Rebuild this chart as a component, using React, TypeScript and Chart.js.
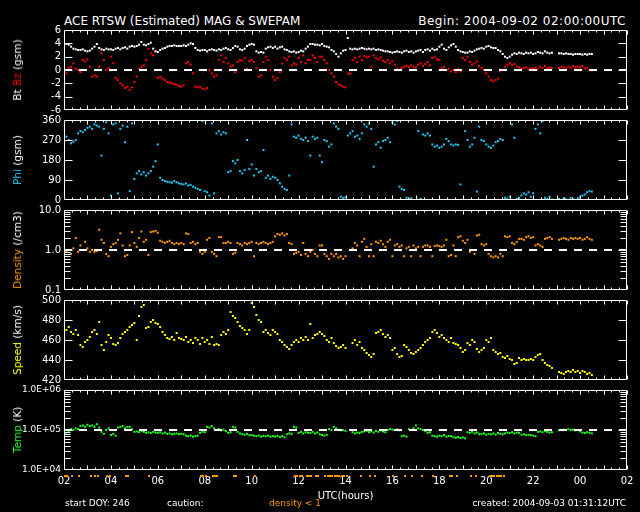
import React, { useEffect, useRef } from 'react';
import { Chart, registerables } from 'chart.js';

Chart.register(...registerables);
Chart.defaults.font.family = 'DejaVu Sans';

// ---- data (hours after 2004-09-02 02:00 UTC, one value every 0.1 h) ----
const STEP_H = 0.1;
const X_TICK_HOURS = [0, 2, 4, 6, 8, 10, 12, 14, 16, 18, 20, 22, 24];
const START_HOUR = 2;

const BT = [
  4.0,3.9,3.8,3.5,3.2,3.1,3.0,3.0,3.1,2.9,
  2.8,2.9,3.2,3.5,3.9,3.3,3.1,3.0,3.2,3.1,
  3.1,3.0,3.2,3.3,3.1,3.3,3.4,3.2,3.5,3.6,
  3.5,3.6,3.8,4.2,3.8,3.7,3.9,4.1,3.2,2.8,
  2.7,3.0,3.2,3.3,3.5,3.6,3.6,3.7,3.6,3.6,
  3.6,3.7,3.6,3.8,4.0,3.9,3.3,3.0,2.9,3.0,
  3.0,2.8,3.0,3.1,3.0,2.9,3.1,3.0,3.2,3.3,
  3.1,3.0,3.3,3.6,3.5,3.1,3.0,3.2,3.6,3.8,
  3.9,3.8,2.8,2.6,2.7,2.6,3.2,3.4,3.5,3.3,
  3.5,3.2,3.4,3.5,3.1,3.0,2.8,2.7,2.8,2.6,
  2.7,2.9,2.8,3.2,3.5,3.9,3.9,3.8,3.8,3.7,
  3.9,3.6,3.5,3.4,3.0,2.8,2.4,2.0,2.5,2.9,
  3.0,4.8,3.2,3.1,3.2,3.1,3.2,3.3,3.2,3.1,
  3.2,3.1,3.2,3.0,3.1,3.0,2.9,2.8,2.8,2.7,
  2.6,2.7,2.8,2.7,2.6,2.8,2.9,2.7,2.8,2.6,
  2.8,2.9,3.0,2.7,3.0,3.1,2.9,3.2,3.0,3.1,
  3.5,3.8,3.2,3.0,3.4,3.7,3.9,3.5,3.0,2.8,
  2.7,2.6,2.6,2.8,2.7,2.9,3.1,3.2,3.3,3.2,
  3.5,3.6,3.4,3.3,3.3,3.0,2.8,2.4,2.0,1.8,
  2.0,2.3,2.5,2.4,2.6,2.5,2.4,2.6,2.5,2.6,
  2.4,2.5,2.7,2.6,2.5,2.8,2.6,2.5,2.6,null,
  null,2.5,2.5,2.4,2.5,2.4,2.4,2.3,2.4,2.4,
  2.4,2.3,2.4,2.3,2.4,2.4,
];

const BZ = [
  -1.0,-0.5,0.3,0.5,1.0,0.2,0.0,-0.3,1.5,1.3,
  1.6,0.5,-1.0,-0.8,-1.0,0.5,2.5,1.5,0.0,0.3,
  2.0,1.0,-1.2,-1.5,-2.0,-2.3,-2.7,-2.5,-3.0,-2.6,
  -1.8,-1.0,0.2,0.5,0.7,1.5,3.2,2.5,2.2,2.8,
  -1.2,-1.0,-1.3,-1.5,-1.8,-1.9,-2.0,-2.1,-2.2,-2.4,
  -2.5,-2.3,1.0,1.2,0.8,-0.5,-2.5,-2.6,-2.5,-2.8,
  -2.9,-2.7,0.0,-0.5,-1.0,-0.8,1.5,2.2,1.2,1.8,
  1.0,0.5,0.7,-0.3,1.2,1.5,1.4,1.8,0.2,1.3,
  1.5,1.2,0.3,-1.0,-0.8,1.2,2.0,1.5,0.0,-1.0,
  -1.5,-1.2,-0.3,1.0,1.8,1.5,2.0,0.7,1.0,0.8,
  1.8,1.2,2.2,1.0,1.5,1.5,2.2,1.8,1.2,2.0,
  2.0,1.5,1.0,0.0,-0.5,-1.0,-1.8,-2.2,-2.3,-2.5,
  -2.6,-0.5,-0.6,1.5,1.8,1.2,2.0,1.5,2.1,1.9,
  2.0,0.5,2.2,1.8,1.6,1.9,1.4,1.2,1.5,1.0,
  1.3,0.8,0.2,0.0,0.3,0.5,0.6,0.4,0.7,0.5,
  0.4,0.8,1.0,0.6,0.9,1.2,0.7,1.8,2.0,1.6,
  1.5,0.3,0.5,0.0,0.2,-0.2,0.0,-0.3,0.1,-0.2,
  1.8,1.5,2.0,1.2,0.8,1.0,1.3,0.6,0.3,0.0,
  -0.5,-1.0,-1.5,-1.7,-1.5,-1.3,-0.2,0.0,0.5,0.8,
  1.0,0.7,0.9,0.5,0.4,0.2,0.3,0.4,0.1,0.3,
  0.2,0.4,0.1,0.5,0.3,0.6,0.2,0.4,0.3,null,
  null,0.3,0.5,0.4,0.2,0.5,0.3,0.6,0.4,0.5,
  0.4,0.6,0.2,0.3,0.0,-0.1,
];

const PHI = [
  280,285,270,255,262,270,300,310,305,315,
  325,330,320,340,335,330,200,320,350,300,
  20,340,345,30,320,335,260,330,40,345,
  95,120,130,115,125,110,120,130,150,175,
  250,100,90,85,82,80,78,85,80,75,
  72,70,75,65,68,60,55,50,45,355,
  40,35,20,345,30,300,310,295,305,300,
  125,130,175,165,180,130,120,135,270,140,
  160,110,140,125,130,225,100,110,95,105,
  100,90,75,60,50,45,110,340,285,280,
  290,275,270,280,265,200,285,275,280,200,
  170,270,265,240,250,345,330,320,15,10,
  12,290,300,310,285,290,275,300,340,330,
  345,320,150,250,260,235,265,270,280,260,
  350,340,355,60,50,45,10,5,8,0,
  360,310,5,295,290,300,290,250,240,245,
  235,240,250,275,265,250,245,250,248,70,
  360,310,270,240,250,280,38,330,270,265,
  250,240,235,245,260,265,275,270,10,5,
  15,340,280,5,10,20,30,25,35,15,
  30,320,340,300,355,10,5,15,2,null,
  null,5,360,8,3,360,10,5,358,8,
  12,20,25,35,40,38,
];

const DENSITY = [
  0.8,0.9,1.0,0.8,1.1,2.0,0.9,1.3,1.0,1.6,
  1.1,0.9,1.0,0.9,0.95,3.2,1.8,1.5,0.8,0.7,
  1.2,1.4,1.5,1.8,2.6,1.3,0.7,0.75,1.3,2.8,
  1.5,1.2,2.0,2.9,1.6,1.8,0.75,2.8,2.9,3.0,
  2.7,1.7,1.6,1.5,1.6,1.7,1.5,1.4,1.5,1.4,
  1.5,1.4,2.6,2.5,1.5,1.6,1.4,1.5,0.9,0.8,
  0.9,1.8,2.0,0.9,0.8,0.7,2.1,2.1,1.5,1.5,
  1.6,1.5,0.8,0.85,1.5,1.4,1.3,1.5,1.4,1.5,
  1.6,0.7,1.5,1.4,1.5,1.6,1.5,1.4,1.5,1.6,
  2.2,2.5,2.4,2.6,2.3,2.5,1.5,1.4,0.8,0.85,
  0.9,0.75,1.5,0.8,0.7,0.9,1.0,0.8,0.7,1.3,
  1.3,0.8,0.7,0.6,0.8,0.7,0.8,0.65,0.7,0.6,
  0.7,null,null,1.1,1.5,1.3,0.7,1.6,1.9,1.2,
  0.7,1.4,0.7,1.6,1.5,1.7,1.4,1.2,1.6,1.8,
  0.7,1.3,1.4,1.2,1.3,0.7,1.1,1.2,0.7,1.3,
  1.1,1.2,0.7,1.2,1.3,1.3,1.2,0.7,1.25,1.3,
  1.25,1.2,1.3,1.8,0.7,0.75,1.3,0.7,2.1,2.2,
  1.7,1.5,1.8,0.9,1.0,0.8,2.3,2.4,1.4,1.3,
  1.4,0.8,0.7,0.65,0.7,0.65,0.8,0.7,2.2,2.1,
  2.2,1.5,1.4,1.6,1.9,1.9,1.8,2.1,2.2,2.0,
  2.1,1.3,1.4,1.3,1.2,1.9,2.0,2.1,1.9,null,
  null,1.8,1.9,2.0,1.9,1.8,2.0,1.9,2.0,1.9,
  2.0,1.8,1.9,2.1,1.9,1.8,
];

const SPEED = [
  472,470,473,468,466,470,465,455,453,458,
  460,463,468,470,466,478,455,450,458,465,
  462,456,455,457,462,466,468,470,473,475,
  477,460,484,493,495,472,473,478,480,477,
  476,473,468,465,462,461,463,460,467,462,
  461,460,463,458,460,457,462,460,456,462,
  458,460,456,463,455,456,455,465,468,466,
  470,488,484,482,478,474,472,470,466,470,
  497,493,485,480,478,468,470,467,465,470,
  468,466,460,458,455,453,451,455,458,460,
  458,462,460,463,460,476,462,465,466,468,
  466,464,460,458,462,457,454,452,453,455,
  452,null,null,457,460,455,458,452,450,447,
  445,443,446,467,468,470,466,463,465,462,
  450,452,446,443,444,455,453,450,447,446,
  448,450,452,455,458,460,462,468,470,467,
  463,465,462,460,458,462,457,456,455,452,
  448,450,457,455,460,458,451,448,450,452,
  460,458,462,450,448,446,447,443,442,444,
  441,440,436,437,442,440,441,440,440,441,
  440,443,445,446,440,437,435,434,432,null,
  null,428,427,426,428,429,428,430,428,429,
  427,429,428,426,427,425,
];

const TEMP = [
  80000,85000,95000,105000,100000,110000,105000,125000,130000,120000,
  135000,125000,130000,120000,140000,115000,90000,80000,100000,110000,
  75000,80000,72000,115000,120000,125000,110000,118000,120000,105000,
  90000,92000,88000,95000,90000,85000,88000,84000,90000,86000,
  85000,88000,82000,86000,80000,82000,78000,80000,82000,79000,
  80000,78000,72000,70000,73000,68000,71000,72000,85000,90000,
  88000,120000,115000,125000,110000,100000,105000,98000,102000,95000,
  85000,88000,120000,115000,90000,82000,78000,76000,80000,74000,
  75000,72000,70000,73000,68000,71000,70000,72000,68000,70000,
  69000,71000,67000,70000,66000,78000,82000,80000,120000,115000,
  85000,90000,82000,88000,86000,84000,90000,82000,86000,78000,
  75000,72000,76000,105000,100000,120000,110000,102000,98000,100000,
  95000,null,null,88000,82000,86000,84000,90000,92000,95000,
  88000,92000,86000,95000,90000,98000,92000,88000,100000,105000,
  102000,100000,104000,98000,70000,72000,68000,105000,100000,110000,
  130000,110000,105000,100000,95000,85000,88000,72000,70000,68000,
  72000,70000,75000,68000,71000,70000,66000,64000,67000,63000,
  65000,62000,88000,85000,90000,82000,86000,78000,80000,82000,
  76000,80000,78000,82000,77000,84000,80000,78000,82000,86000,
  84000,88000,82000,86000,85000,76000,78000,74000,76000,75000,
  72000,70000,90000,92000,88000,95000,90000,86000,88000,null,
  null,98000,100000,102000,100000,105000,100000,102000,98000,100000,
  92000,86000,84000,88000,85000,82000,
];

const BZ_TICKS = [-6, -4, -2, 0, 2, 4, 6];
const PHI_TICKS = [0, 90, 180, 270, 360];
const DENSITY_TICKS = [0.1, 1, 10];
const SPEED_TICKS = [420, 440, 460, 480, 500];
const TEMP_TICKS = [1e4, 1e5, 1e6];

// ---- styling ----
const WHITE = '#ffffff';
const RED = '#ff0000';
const CYAN = '#1ec8f0';
const ORANGE = '#ff9900';
const YELLOW = '#ffff00';
const GREEN = '#22ff22';
const FONT = 'DejaVu Sans';

const toPoints = (arr: (number | null)[]) =>
  arr.map((v, i) => ({ x: Math.round(i * STEP_H * 100) / 100, y: v }));

const minorLog = (lo: number, hi: number) => {
  const out: number[] = [];
  for (let d = lo; d < hi * 0.999; d *= 10) for (let k = 2; k <= 9; k++) out.push(d * k);
  return out;
};

const framePlugin = {
  id: 'frame',
  afterDatasetsDraw(chart: any, _args: any, opts: any) {
    const { ctx, chartArea: a } = chart;
    const xs = chart.scales.x;
    const ys = chart.scales.y;
    const L = a.left + 0.5, R = a.right - 0.5, T = a.top + 0.5, B = a.bottom - 0.5;
    ctx.save();
    ctx.strokeStyle = WHITE;
    ctx.lineWidth = 1;
    ctx.beginPath();
    ctx.rect(L, T, R - L, B - T);
    for (let m = 0; m <= 1440; m += 20) {
      const px = Math.round(xs.getPixelForValue(m / 60)) + 0.5;
      const len = m % 60 === 0 ? 4 : 2;
      ctx.moveTo(px, T); ctx.lineTo(px, T + len);
      ctx.moveTo(px, B); ctx.lineTo(px, B - len);
    }
    const yt = (vals: number[], len: number) =>
      vals.forEach((v) => {
        const py = Math.round(ys.getPixelForValue(v)) + 0.5;
        ctx.moveTo(L, py); ctx.lineTo(L + len, py);
        ctx.moveTo(R, py); ctx.lineTo(R - len, py);
      });
    yt(opts.major || [], 8);
    yt(opts.minor || [], 6);
    ctx.stroke();
    ctx.restore();
  },
};

const stripPlugin = {
  id: 'lowDensityStrip',
  afterDraw(chart: any, _args: any, opts: any) {
    if (!opts || !opts.values) return;
    const { ctx, chartArea: a } = chart;
    const xs = chart.scales.x;
    ctx.save();
    ctx.fillStyle = ORANGE;
    opts.values.forEach((v: number | null, i: number) => {
      if (v == null || v >= 1) return;
      const x1 = xs.getPixelForValue(i * STEP_H);
      const x2 = xs.getPixelForValue((i + 1) * STEP_H);
      ctx.fillRect(Math.round(x1), a.bottom + 5, Math.max(2, Math.round(x2 - x1)), 2);
    });
    ctx.restore();
  },
};

interface Series { data: (number | null)[]; color: string }
interface PanelDef {
  top: number;
  type: 'linear' | 'logarithmic';
  min: number;
  max: number;
  ticks: number[];
  major: number[];
  minor?: number[];
  fmt: (v: number) => string;
  series: Series[];
  dash?: number;
  showX?: boolean;
  label: { t: string; c: string }[];
  tickFont?: number;
}

const PANELS: PanelDef[] = [
  {
    top: 30, type: 'linear', min: -6, max: 6, ticks: BZ_TICKS, major: [-4, -2, 0, 2, 4],
    fmt: (v) => String(v), series: [{ data: BT, color: WHITE }, { data: BZ, color: RED }], dash: 0,
    label: [{ t: 'Bt ', c: WHITE }, { t: 'Bz', c: RED }, { t: ' (gsm)', c: WHITE }],
  },
  {
    top: 120, type: 'linear', min: 0, max: 360, ticks: PHI_TICKS, major: [90, 180, 270],
    fmt: (v) => String(v), series: [{ data: PHI, color: CYAN }],
    label: [{ t: 'Phi', c: CYAN }, { t: ' (gsm)', c: WHITE }],
  },
  {
    top: 210, type: 'logarithmic', min: 0.1, max: 10, ticks: DENSITY_TICKS, major: [1], minor: minorLog(0.1, 10),
    fmt: (v) => v.toFixed(1), series: [{ data: DENSITY, color: ORANGE }], dash: 1,
    label: [{ t: 'Density', c: ORANGE }, { t: ' (/cm3)', c: WHITE }],
  },
  {
    top: 300, type: 'linear', min: 420, max: 500, ticks: SPEED_TICKS, major: [440, 460, 480],
    fmt: (v) => String(v), series: [{ data: SPEED, color: YELLOW }],
    label: [{ t: 'Speed', c: YELLOW }, { t: ' (km/s)', c: WHITE }],
  },
  {
    top: 390, type: 'logarithmic', min: 1e4, max: 1e6, ticks: TEMP_TICKS, major: [1e5], minor: minorLog(1e4, 1e6),
    fmt: (v) => '1.0E+0' + Math.round(Math.log10(v)), series: [{ data: TEMP, color: GREEN }], dash: 1e5,
    showX: true, tickFont: 9,
    label: [{ t: 'Temp', c: GREEN }, { t: ' (K)', c: WHITE }],
  },
];

function Panel({ def }: { def: PanelDef }) {
  const ref = useRef<HTMLCanvasElement>(null);
  const canvasH = def.showX ? 130 : 100;
  useEffect(() => {
    if (!ref.current) return;
    const datasets: any[] = [];
    if (def.dash !== undefined) {
      datasets.push({
        data: [{ x: 0, y: def.dash }, { x: 24, y: def.dash }],
        showLine: true, borderColor: WHITE, borderWidth: 2, borderDash: [8, 7], pointRadius: 0,
      });
    }
    def.series.forEach((s) => {
      datasets.push({
        data: toPoints(s.data), showLine: false, pointStyle: 'rect', pointRadius: 1.42,
        pointBorderWidth: 0, borderWidth: 0, backgroundColor: s.color, pointBackgroundColor: s.color,
      });
    });
    const chart = new Chart(ref.current, {
      type: 'scatter',
      data: { datasets },
      options: {
        animation: false,
        responsive: false,
        maintainAspectRatio: false,
        devicePixelRatio: 1,
        events: [],
        layout: { padding: { left: 0, right: 13, top: 10, bottom: def.showX ? 0 : 10 } },
        plugins: {
          legend: { display: false },
          tooltip: { enabled: false },
          frame: { major: def.major, minor: def.minor || [] },
          lowDensityStrip: def.showX ? { values: DENSITY } : {},
        } as any,
        scales: {
          x: {
            type: 'linear', min: 0, max: 24, display: !!def.showX,
            grid: { display: false, drawTicks: false }, border: { display: false },
            afterBuildTicks: (s: any) => { s.ticks = X_TICK_HOURS.map((v) => ({ value: v })); },
            afterFit: (s: any) => { if (def.showX) s.height = 40; },
            ticks: {
              color: WHITE, font: { family: FONT, size: 10 }, padding: 5, maxRotation: 0, autoSkip: false,
              callback: (v: any) => String((START_HOUR + Number(v)) % 24).padStart(2, '0'),
            },
          },
          y: {
            type: def.type, min: def.min, max: def.max,
            grid: { display: false, drawTicks: false }, border: { display: false },
            afterBuildTicks: (s: any) => { s.ticks = def.ticks.map((v) => ({ value: v })); },
            afterFit: (s: any) => { s.width = 64; },
            ticks: {
              color: WHITE, font: { family: FONT, size: def.tickFont || 10 }, padding: 3, autoSkip: false,
              callback: (v: any) => def.fmt(Number(v)),
            },
          },
        } as any,
      },
      plugins: [framePlugin, stripPlugin],
    });
    return () => chart.destroy();
  }, []);
  const center = def.top + 40;
  return (
    <>
      <canvas
        ref={ref}
        width={640}
        height={canvasH}
        style={{ position: 'absolute', left: 0, top: def.top - 10, width: 640, height: canvasH }}
      />
      <div
        style={{
          position: 'absolute', left: 17, top: center, transform: 'translate(-50%, -50%) rotate(-90deg)',
          whiteSpace: 'nowrap', fontFamily: FONT, fontSize: 10.5, lineHeight: '12px',
        }}
      >
        {def.label.map((p, i) => (
          <span key={i} style={{ color: p.c, whiteSpace: 'pre' }}>{p.t}</span>
        ))}
      </div>
    </>
  );
}

const textStyle = (size: number): React.CSSProperties => ({
  position: 'absolute', fontFamily: FONT, fontSize: size, lineHeight: `${size + 2}px`, color: WHITE, whiteSpace: 'pre',
});

export default function App() {
  return (
    <div style={{ position: 'fixed', left: 0, top: 0, width: 640, height: 512, background: '#000', overflow: 'hidden' }}>
      <div style={{ ...textStyle(12), left: 64, top: 14 }}>ACE RTSW (Estimated) MAG &amp; SWEPAM</div>
      <div style={{ ...textStyle(12), right: 14, top: 14, letterSpacing: 0.5 }}>Begin: 2004-09-02 02:00:00UTC</div>
      {PANELS.map((p, i) => (
        <Panel key={i} def={p} />
      ))}
      <div style={{ ...textStyle(10), left: 345.5, top: 490, transform: 'translateX(-50%)' }}>UTC(hours)</div>
      <div style={{ ...textStyle(9), left: 65, top: 498 }}>start DOY: 246</div>
      <div style={{ ...textStyle(9), left: 167, top: 498 }}>caution:</div>
      <div style={{ ...textStyle(9), left: 269, top: 498, color: ORANGE }}>density &lt; 1</div>
      <div style={{ ...textStyle(9), right: 14, top: 498 }}>created: 2004-09-03 01:31:12UTC</div>
    </div>
  );
}
